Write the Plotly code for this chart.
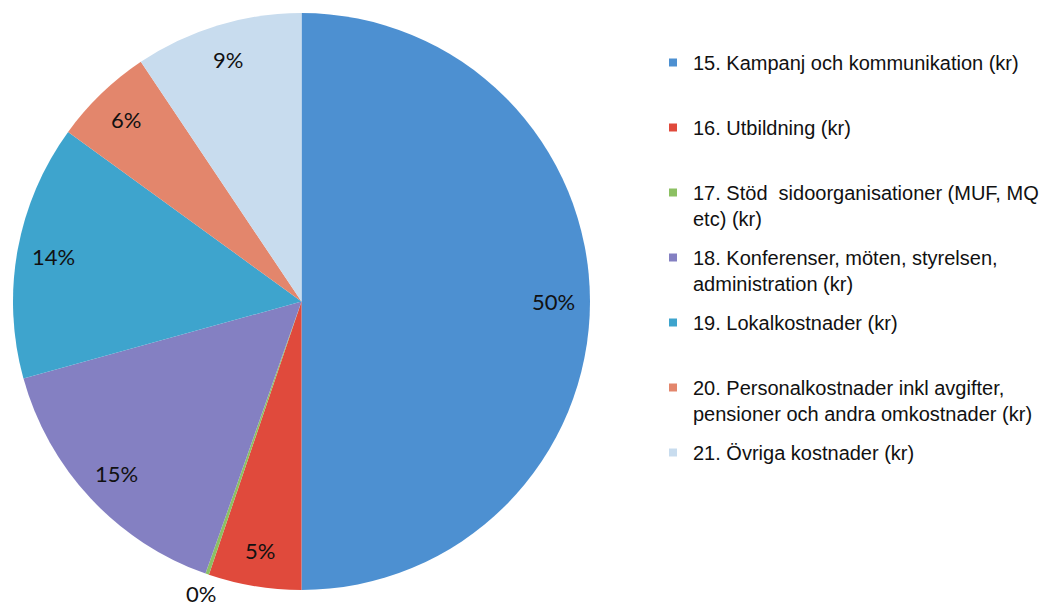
import math
import plotly.graph_objects as go

# ---- data ----
categories = [
    "15. Kampanj och kommunikation (kr)",
    "16. Utbildning (kr)",
    "17. Stöd\u00a0 sidoorganisationer (MUF, MQ etc) (kr)",
    "18. Konferenser, möten, styrelsen, administration (kr)",
    "19. Lokalkostnader (kr)",
    "20. Personalkostnader inkl avgifter, pensioner och andra omkostnader (kr)",
    "21. Övriga kostnader (kr)",
]
legend_labels = [
    "15. Kampanj och kommunikation (kr)<br>\u00a0",
    "16. Utbildning (kr)<br>\u00a0",
    "17. Stöd\u00a0 sidoorganisationer (MUF, MQ<br>etc) (kr)",
    "18. Konferenser, möten, styrelsen,<br>administration (kr)",
    "19. Lokalkostnader (kr)<br>\u00a0",
    "20. Personalkostnader inkl avgifter,<br>pensioner och andra omkostnader (kr)",
    "21. Övriga kostnader (kr)",
]
shares = [50.0, 5.2, 0.2, 15.3, 14.3, 5.6, 9.4]
colors = ["#4d90d1", "#e04a3c", "#8cc063", "#8480c2", "#3ea4cd", "#e3866c", "#c8dcee"]

W, H = 1052, 607
CX, CY, R = 293.5, 293.5, 288.5  # pie geometry in figure px

fig = go.Figure()
fig.add_trace(go.Pie(
    labels=categories,
    values=shares,
    sort=False,
    direction="clockwise",
    rotation=0,
    marker=dict(colors=colors, line=dict(width=0)),
    textinfo="none",
    hoverinfo="skip",
    showlegend=False,
    domain=dict(x=[(CX - R) / W, (CX + R) / W], y=[1 - (CY + R) / H, 1 - (CY - R) / H]),
))

# legend entries (one per slice, same colours)
for i, (lab, col) in enumerate(zip(legend_labels, colors)):
    fig.add_trace(go.Scatter(
        x=[None], y=[None], mode="markers", name=lab,
        marker=dict(symbol="square", size=8, color=col),
        legendgroup=f"g{i}", showlegend=True, hoverinfo="skip",
    ))

total = sum(shares)
cum = 0.0
annotations = []
for v in shares:
    mid = (cum + v / 2) / total * 2 * math.pi
    cum += v
    pct = round(v / total * 100)
    r = 0.875 * R if pct > 0 else R + 20
    xp = CX + r * math.sin(mid)
    yp = CY - r * math.cos(mid)
    annotations.append(dict(
        x=xp / W, y=1 - yp / H, xref="paper", yref="paper",
        text=f"{pct}%", showarrow=False,
        font=dict(family="Lato", size=22, color="#111111"),
        xanchor="center", yanchor="middle",
    ))

fig.update_layout(
    width=W, height=H,
    margin=dict(l=0, r=0, t=0, b=0),
    paper_bgcolor="white", plot_bgcolor="white",
    xaxis=dict(visible=False), yaxis=dict(visible=False),
    annotations=annotations,
    showlegend=True,
    legend=dict(
        x=645 / W, xanchor="left", y=1 - 35 / H, yanchor="top",
        valign="top", traceorder="grouped", tracegroupgap=10,
        font=dict(family="Liberation Sans", size=20, color="#111111"),
        bgcolor="rgba(0,0,0,0)", itemclick=False, itemdoubleclick=False,
    ),
)

fig.write_html("out.html")
